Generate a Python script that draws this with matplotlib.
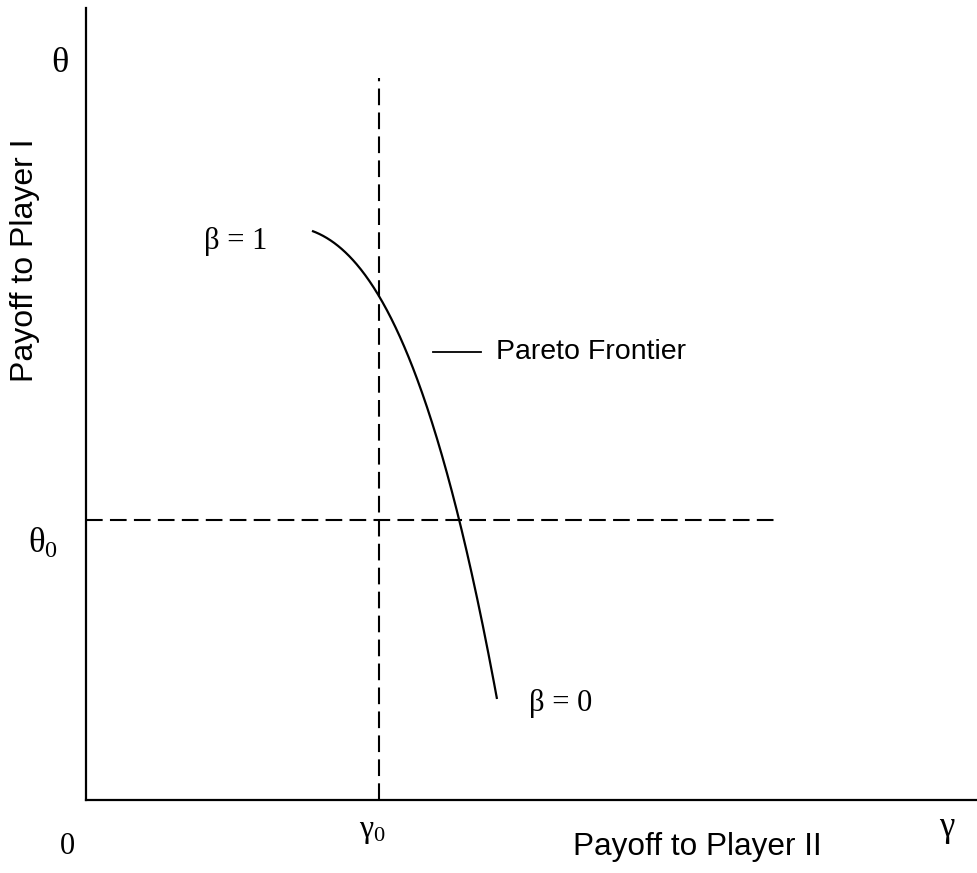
import matplotlib
matplotlib.use("Agg")
import matplotlib.pyplot as plt
import numpy as np

plt.rcParams['mathtext.fontset'] = 'custom'
plt.rcParams['mathtext.rm'] = 'Liberation Serif'
plt.rcParams['mathtext.it'] = 'Liberation Serif'

# Pareto frontier points (x = payoff to player II, y = payoff to player I)
frontier_x = [226, 264, 293, 322, 347, 374, 397, 411]
frontier_y = [568, 547, 502, 440, 377, 280, 170, 102]
gamma0 = 293
theta0 = 280
vline_top = 722
hline_right = 692

W, H = 977, 873
fig = plt.figure(figsize=(W / 100, H / 100), dpi=100)
x0, y0 = 86, 800
ax = fig.add_axes([x0 / W, (H - y0) / H, (W - x0) / W, (y0 - 8) / H])
ax.set_xlim(0, W - x0)
ax.set_ylim(0, y0 - 8)
for s in ['top', 'right']:
    ax.spines[s].set_visible(False)
for s in ['left', 'bottom']:
    ax.spines[s].set_linewidth(1.6)
ax.set_xticks([])
ax.set_yticks([])

# smooth cubic fit y(x) through the read points
coef = np.polyfit(frontier_x, frontier_y, 3)
xs = np.linspace(frontier_x[0], frontier_x[-1], 300)
ax.plot(xs, np.polyval(coef, xs), color='black', lw=1.6, solid_capstyle='butt')

dash = (0, (8, 3.5))
ax.plot([gamma0, gamma0], [0, vline_top], color='black', lw=1.5, linestyle=dash)
ax.plot([0, hline_right], [theta0, theta0], color='black', lw=1.5, linestyle=dash)

# label pointer dash
ax.plot([433 - x0, 481 - x0], [y0 - 352, y0 - 352], color='black', lw=1.3, clip_on=False)

serif = 'Liberation Serif'
sans = 'Liberation Sans'

def T(px, py, s, **kw):
    ax.text(px - x0, y0 - py, s, ha='center', va='center', clip_on=False, **kw)

T(60, 63, 'θ', family=serif, fontsize=26)
T(43, 543, r'$θ_{0}$', fontsize=25)
T(67, 847, '0', family=serif, fontsize=22)
T(372, 830, r'$γ_{0}$', fontsize=23)
T(947, 828, 'γ', family=serif, fontsize=25)
T(236, 242, 'β = 1', family=serif, fontsize=22)
T(561, 703, 'β = 0', family=serif, fontsize=22)
T(591, 352, 'Pareto Frontier', family=sans, fontsize=20.5)
T(697, 847, 'Payoff to Player II', family=sans, fontsize=22.7)
ax.text(25 - x0, y0 - 260, 'Payoff to Player I', family=sans, fontsize=23,
        rotation=90, ha='center', va='center', clip_on=False)

fig.savefig('out.png', dpi=100)
